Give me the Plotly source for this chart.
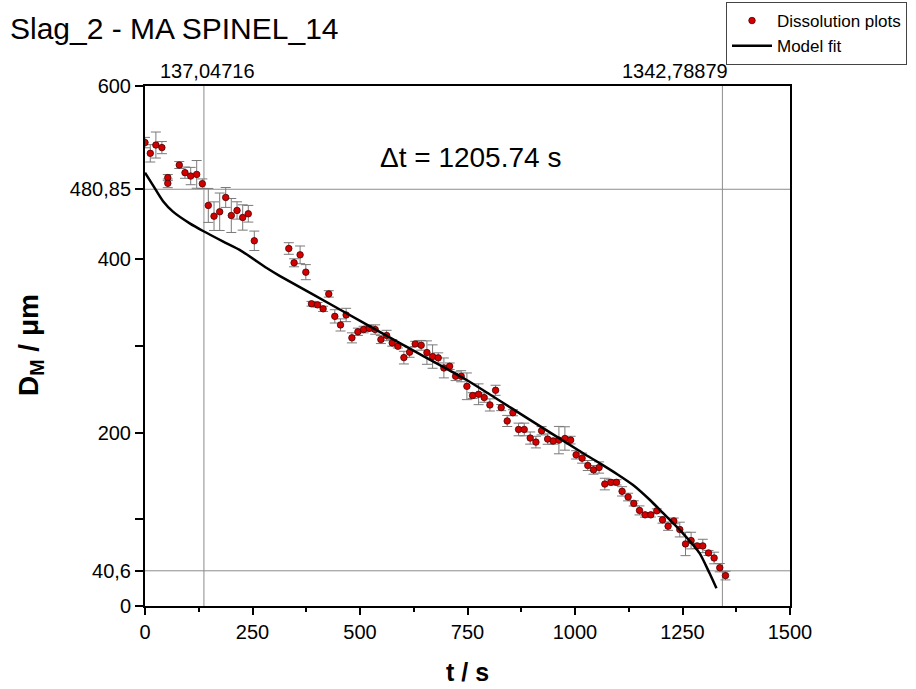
import plotly.graph_objects as go

# ---------------- data ----------------
t_data = [0, 12.3, 25.3, 39.3, 53.0, 53.0, 79.7, 93.0, 106.3, 120.2, 133.3, 147.2, 160.5, 173.7, 187.7,
          200.7, 214.0, 227.2, 240.2, 254.2, 334.4, 346.7, 360.7, 374.0, 387.2, 401.2, 414.2, 427.4,
          441.4, 454.7, 467.7, 481.2, 495.1, 508.4, 521.4, 535.3, 548.6, 561.9, 574.9, 588.1, 602.1,
          615.3, 628.4, 642.3, 655.6, 668.8, 681.9, 695.1, 708.4, 722.3, 735.3, 748.6, 761.9, 775.8,
          788.8, 802.1, 815.3, 828.4, 842.3, 855.6, 868.8, 881.9, 895.8, 909.1, 922.3, 936.3, 949.3,
          962.6, 976.5, 989.8, 1002.6, 1016.5, 1029.8, 1043.0, 1056.0, 1069.3, 1083.3, 1096.5, 1109.5,
          1123.5, 1136.7, 1150.0, 1163.0, 1176.3, 1190.2, 1203.5, 1216.5, 1229.8, 1243.7, 1257.0,
          1270.0, 1284.0, 1297.2, 1310.5, 1323.5, 1336.7, 1350.0]
d_data = [534.7, 522.3, 531.9, 528.9, 494.3, 487.7, 508.8, 500.0, 496.1, 498.0, 487.3, 462.2, 449.8,
          454.9, 471.4, 450.6, 456.4, 448.3, 452.6, 421.4, 412.5, 396.0, 405.2, 385.2, 348.7, 347.5,
          342.9, 360.1, 334.2, 324.3, 335.8, 309.4, 316.4, 319.0, 320.5, 319.0, 307.4, 312.1, 303.6,
          299.7, 286.6, 292.8, 302.4, 300.8, 292.4, 287.8, 286.3, 274.7, 276.6, 265.1, 265.1, 253.5,
          242.8, 244.3, 240.5, 232.0, 248.9, 228.9, 213.5, 223.0, 203.7, 203.7, 193.8, 189.1, 202.2,
          192.6, 190.3, 191.4, 193.3, 191.4, 174.4, 170.6, 162.1, 157.1, 159.8, 140.7, 142.7, 142.7,
          132.3, 125.7, 118.4, 110.3, 105.2, 105.2, 109.8, 99.4, 92.1, 98.2, 88.2, 71.6, 75.5, 69.3,
          69.3, 61.2, 55.4, 44.2, 35.1]
d_err = [6, 10, 15, 7, 3.5, 5, 4, 6.5, 10, 16, 5.5, 19.6, 16.5, 21.6, 11.5, 19.6, 10, 14.6, 9.6, 11.2,
         6.7, 4.6, 10.2, 8.7, 2.7, 2.7, 3, 3.7, 7.7, 7, 7.7, 5.8, 4.2, 3.8, 3.5, 5.4, 4.6, 6, 3.8, 2,
         7.3, 5.8, 3, 5.6, 13.5, 13.5, 5.8, 11.5, 3.8, 5, 6.4, 15.4, 3.3, 12, 5.4, 7, 5.8, 3.5, 6.4,
         3.5, 7.3, 7.3, 7, 6.7, 4.8, 6, 3.5, 15.8, 13.5, 4.4, 4.8, 5.8, 5.8, 5, 6.5, 6.7, 3, 3, 5.4,
         4.4, 3, 5.2, 2.7, 2.5, 2.3, 3.8, 4.8, 3.3, 8.5, 13.5, 9.6, 3, 7.7, 2.9, 6.7, 4.8, 5]

t_fit = [0, 19, 42, 65, 104, 135, 182, 220, 283, 313, 450, 600, 748, 887, 1019, 1058, 1100, 1135,
         1175, 1213, 1251, 1290, 1313, 1329]
d_fit = [500, 485, 467, 455, 441.5, 432.7, 420.5, 411, 390, 381, 343, 301.2, 260.8, 217.3, 176.2,
         164.6, 151.5, 139.6, 122, 103, 83.9, 60.8, 37.7, 20.4]

x_tick_vals = [0, 250, 500, 750, 1000, 1250, 1500]
x_tick_text = ["0", "250", "500", "750", "1000", "1250", "1500"]
x_minor_vals = [125, 375, 625, 875, 1125, 1375]
y_tick_vals = [0, 40.6, 200, 400, 480.85, 600]
y_tick_text = ["0", "40,6", "200", "400", "480,85", "600"]
y_minor_vals = [100, 300]
t_marks = [137.04716, 1342.78879]
t_mark_text = ["137,04716", "1342,78879"]
d_marks = [480.85, 40.6]
delta_t_label = "\u0394t = 1205.74 s"
title_text = "Slag_2 - MA SPINEL_14"

FONT = "Liberation Sans, Arial, sans-serif"

fig = go.Figure()

fig.add_trace(go.Scatter(
    x=t_data, y=d_data, mode="markers", name="Dissolution plots",
    marker=dict(color="#d40000", size=6.5, line=dict(color="#4a0000", width=0.8)),
    error_y=dict(type="data", array=d_err, visible=True, color="#7a7a7a", thickness=1, width=5),
))
fig.add_trace(go.Scatter(
    x=t_fit, y=d_fit, mode="lines", name="Model fit",
    line=dict(color="black", width=2.5, shape="spline", smoothing=0.6),
))

shapes = []
for tv in t_marks:
    shapes.append(dict(type="line", xref="x", yref="paper", x0=tv, x1=tv, y0=0, y1=1,
                       line=dict(color="#8c8c8c", width=1), layer="below"))
for dv in d_marks:
    shapes.append(dict(type="line", xref="paper", yref="y", x0=0, x1=1, y0=dv, y1=dv,
                       line=dict(color="#8c8c8c", width=1), layer="below"))

annotations = [
    dict(text=t_mark_text[0], x=t_marks[0], xref="x", y=1, yref="paper", xanchor="center",
         yanchor="bottom", xshift=4, yshift=2, showarrow=False, font=dict(size=20, color="black", family=FONT)),
    dict(text=t_mark_text[1], x=t_marks[1], xref="x", y=1, yref="paper", xanchor="right",
         yanchor="bottom", xshift=8, yshift=2, showarrow=False, font=dict(size=20, color="black", family=FONT)),
    dict(text=delta_t_label, x=0.5, xref="paper", y=(606 - 158) / 520, yref="paper",
         xanchor="center", yanchor="middle", xshift=3, showarrow=False,
         font=dict(size=28, color="black", family=FONT)),
    dict(text="<b>t / s</b>", x=0.5, xref="paper", y=(606 - 672) / 520, yref="paper",
         xanchor="center", yanchor="middle", showarrow=False,
         font=dict(size=25, color="black", family=FONT)),
    dict(text="<b>D<sub>M</sub> / \u03bcm</b>", x=(30 - 145) / 645, xref="paper", y=(606 - 345) / 520,
         yref="paper", xanchor="center", yanchor="middle", textangle=-90, showarrow=False,
         font=dict(size=28, color="black", family=FONT)),
]

fig.update_layout(
    width=916, height=689,
    margin=dict(l=145, r=126, t=86, b=83, autoexpand=False),
    paper_bgcolor="white", plot_bgcolor="white",
    font=dict(family=FONT, color="black", size=20),
    title=dict(text=title_text, x=10 / 916, xanchor="left", y=1 - 28 / 689, yanchor="middle",
               xref="container", yref="container", font=dict(size=30, color="black", family=FONT)),
    showlegend=True,
    legend=dict(xref="container", yref="container", x=726 / 916, y=1 - 2 / 689,
                xanchor="left", yanchor="top", bgcolor="white", bordercolor="#444", borderwidth=1,
                font=dict(size=17, color="black", family=FONT), tracegroupgap=0,
                itemwidth=40),
    shapes=shapes,
    annotations=annotations,
    xaxis=dict(range=[0, 1500], tickvals=x_tick_vals, ticktext=x_tick_text, ticks="outside",
               ticklen=7, tickwidth=1.5, tickcolor="black", showline=True, linewidth=2,
               linecolor="black", mirror=True, showgrid=False, zeroline=False,
               minor=dict(tickvals=x_minor_vals, ticks="outside", ticklen=4, tickwidth=1.5, tickcolor="black"),
               tickfont=dict(size=20, family=FONT)),
    yaxis=dict(range=[0, 600], tickvals=y_tick_vals, ticktext=y_tick_text, ticks="outside",
               ticklen=8, tickwidth=1.5, tickcolor="black", showline=True, linewidth=2,
               linecolor="black", mirror=True, showgrid=False, zeroline=False,
               minor=dict(tickvals=y_minor_vals, ticks="outside", ticklen=8, tickwidth=1.5, tickcolor="black"),
               tickfont=dict(size=20, family=FONT)),
)

fig.write_html("out.html")
